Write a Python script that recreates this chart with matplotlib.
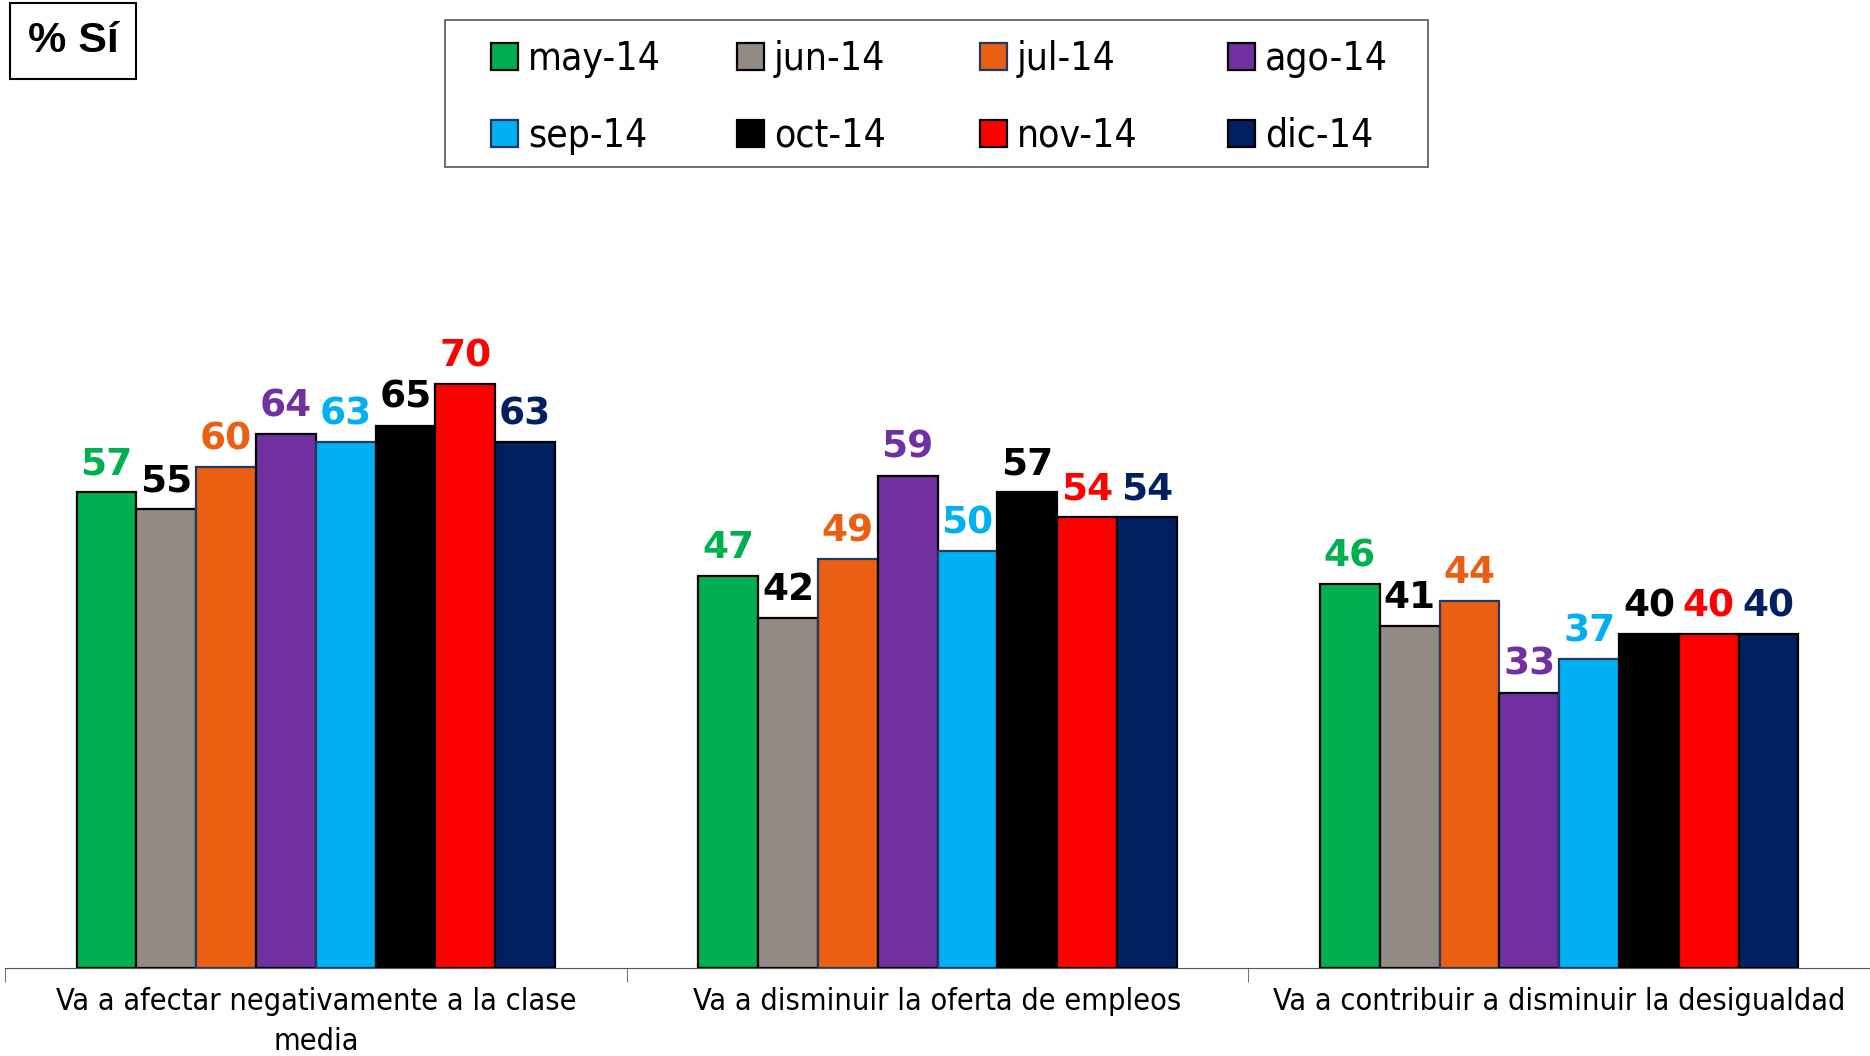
import matplotlib.pyplot as plt
from matplotlib.patches import Rectangle
import numpy as np

categories = ["Va a afectar negativamente a la clase\nmedia",
              "Va a disminuir la oferta de empleos",
              "Va a contribuir a disminuir la desigualdad"]
months = ["may-14", "jun-14", "jul-14", "ago-14", "sep-14", "oct-14", "nov-14", "dic-14"]
values = {
    "may-14": [57, 47, 46],
    "jun-14": [55, 42, 41],
    "jul-14": [60, 49, 44],
    "ago-14": [64, 59, 33],
    "sep-14": [63, 50, 37],
    "oct-14": [65, 57, 40],
    "nov-14": [70, 54, 40],
    "dic-14": [63, 54, 40],
}

colors = ["#00B050", "#948A84", "#EA5F12", "#7030A0", "#00B0F0", "#000000", "#FF0000", "#002060"]
label_colors = ["#00B050", "#000000", "#EA5F12", "#7030A0", "#00B0F0", "#000000", "#FF0000", "#002060"]
edge_colors = ["black", "black", "#1F3864", "black", "#1F3864", "black", "black", "black"]

W, H = 1870, 1056
fig = plt.figure(figsize=(W / 100, H / 100), dpi=100)
ax = fig.add_axes([0.0027, 0.0833, 0.9973, 0.7112])

x = np.arange(len(categories))
w = 0.0962
handles = []
for i, m in enumerate(months):
    xs = x + (i - 3.5) * w
    bars = ax.bar(xs, values[m], width=w, color=colors[i], edgecolor=edge_colors[i],
                  linewidth=1.6, label=m)
    handles.append(bars)
    for xi, v in zip(xs, values[m]):
        ax.annotate(str(v), (xi, v), xytext=(0, 7), textcoords="offset points",
                    ha="center", va="bottom", fontsize=27, fontweight="bold",
                    color=label_colors[i], family="DejaVu Sans")

ax.set_xlim(-0.5, 2.5)
ax.set_ylim(0, 90)
for s in ["left", "right", "top"]:
    ax.spines[s].set_visible(False)
ax.spines["bottom"].set_color("#555555")
ax.set_yticks([])
ax.set_xticks(x)
ax.set_xticklabels(categories, fontsize=22, fontstretch="condensed", linespacing=1.45)
ax.tick_params(axis="x", which="major", length=0, pad=14)
ax.set_xticks([-0.5, 0.5, 1.5, 2.5], minor=True)
ax.tick_params(axis="x", which="minor", length=10, color="#555555")

# legend: frame drawn by hand, one small legend per column so columns are evenly spaced
fig.patches.append(Rectangle((445 / W, 1 - 167 / H), (1428 - 445) / W, (167 - 20) / H,
                             transform=fig.transFigure, facecolor="white",
                             edgecolor="#555555", linewidth=1.2, zorder=0))
col_x = [491, 737, 980, 1228]
for c in range(4):
    leg = fig.legend([handles[c], handles[c + 4]], [months[c], months[c + 4]],
                     loc="upper left", bbox_to_anchor=(col_x[c] / W, 1 - 40 / H),
                     frameon=False, borderpad=0, borderaxespad=0,
                     handlelength=0.7, handleheight=0.7, handletextpad=0.25,
                     labelspacing=1.0, prop={"size": 28, "stretch": "condensed"})

fig.text(73 / W, 1 - 41 / H, "% Sí", fontsize=31, fontweight="bold",
         family="Liberation Sans", ha="center", va="center",
         bbox=dict(boxstyle="square,pad=0.42", facecolor="white", edgecolor="black", linewidth=1.5))

fig.savefig("out.png", dpi=100)
